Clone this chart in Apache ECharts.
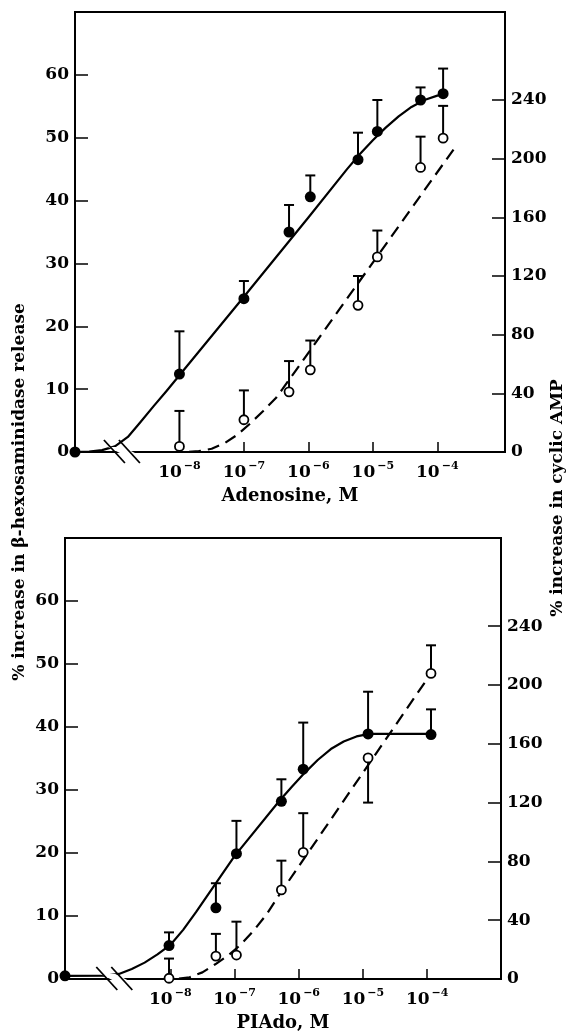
<!DOCTYPE html>
<html><head><meta charset="utf-8">
<script src="https://cdn.jsdelivr.net/npm/echarts@6/dist/echarts.min.js"></script>
<style>html,body{margin:0;padding:0;background:#fff}#c{width:571px;height:1036px}</style>
</head><body><div id="c"></div>
<script>
const FONT = '"DejaVu Serif", "Liberation Serif", serif';

// ---------- axis setup (log10 of molar concentration) ----------
const leftTicks = [0, 10, 20, 30, 40, 50, 60];
const rightTicks = [0, 40, 80, 120, 160, 200, 240];
const xTicks = [-8, -7, -6, -5, -4];
const topXRange = [-9.62, -2.95];
const botXRange = [-9.64, -2.85];
const breakTop = -8.9;
const breakBot = -8.88;

// ---------- Adenosine panel ----------
const adoLogConc   = [-8.0, -7.0, -6.3, -5.97, -5.23, -4.93, -4.26, -3.91];
const adoHexCtrl   = 0;
const adoHex       = [12.4, 24.4, 35.0, 40.6, 46.5, 51.0, 56.0, 57.0];
const adoHexErr    = [19.2, 27.2, 39.3, 44.0, 50.8, 56.0, 58.0, 61.0];
const adoCamp      = [3.8, 22, 41, 56, 100, 133, 194, 214];
const adoCampErr   = [28, 42, 62, 76, 120, 151, 215, 236];
const adoHexCurve  = [[-9.62,0],[-9.4,0.05],[-9.2,0.3],[-9.0,0.9],[-8.8,2.4],[-8.6,4.8],[-8.4,7.3],[-8.2,9.7],[-8.0,12.2],[-7.0,24.7],[-6.0,37.3],[-5.4,45.0],[-5.2,47.4],[-5.0,49.6],[-4.8,51.6],[-4.6,53.4],[-4.4,54.9],[-4.2,56.0],[-4.0,56.7],[-3.85,57.0]];
const adoCampCurve = [[-9.62,0],[-7.9,0],[-7.7,0.6],[-7.5,2.2],[-7.3,6.0],[-7.1,11.8],[-6.9,19.5],[-6.7,28],[-6.5,37],[-6.4,43],[-3.72,208]];

// ---------- PIAdo panel ----------
const piaLogConc   = [-8.02, -7.29, -6.97, -6.27, -5.93, -4.92, -3.94];
const piaHexCtrl   = 0.5;
const piaHex       = [5.3, 11.3, 19.9, 28.2, 33.3, 38.9, 38.8];
const piaHexErr    = [7.4, 15.2, 25.1, 31.7, 40.7, 45.6, 42.8];
const piaCamp      = [0.5, 15.6, 16.3, 60.6, 86.2, 150.4, 207.9];
const piaCampErr   = [13.9, 30.7, 39, 80.5, 112.8, 120, 227];
const piaHexCurve  = [[-9.64,0.5],[-9.0,0.55],[-8.8,0.8],[-8.6,1.6],[-8.4,2.6],[-8.2,3.9],[-8.0,5.4],[-7.8,7.8],[-7.6,10.6],[-7.0,19.5],[-6.3,28.3],[-6.1,30.6],[-5.9,32.8],[-5.7,34.8],[-5.5,36.5],[-5.3,37.7],[-5.1,38.5],[-4.9,38.9],[-3.95,38.9]];
const piaCampCurve = [[-9.64,0],[-7.9,0],[-7.7,1.2],[-7.5,4.5],[-7.3,10],[-7.1,16],[-6.9,23.5],[-6.7,33],[-6.5,44],[-6.3,57.5],[-3.94,207.9]];

const xTitleTop = 'Adenosine, M';
const xTitleBot = 'PIAdo, M';
const leftTitle = '% increase in β-hexosaminidase release';
const rightTitle = '% increase in cyclic AMP';

// ---------- helpers ----------
const lab = {fontFamily: FONT, fontWeight: 'bold', fontSize: 17, color: '#000'};
function xAxisCfg(grid, range, name) {
  return {
    type: 'value', gridIndex: grid, min: range[0], max: range[1],
    name: name, nameLocation: 'middle', nameGap: 35,
    nameTextStyle: {fontFamily: FONT, fontWeight: 'bold', fontSize: 18, color: '#000'},
    axisLine: {show: true, onZero: false, lineStyle: {color: '#000', width: 2}},
    axisTick: {show: true, inside: true, length: 10, customValues: xTicks, lineStyle: {color: '#000', width: 1.5}},
    axisLabel: {show: true, customValues: xTicks, margin: 9,
      formatter: v => '{a|10}{b|−' + Math.abs(Math.round(v)) + '}',
      rich: {
        a: {fontFamily: FONT, fontWeight: 'bold', fontSize: 17, color: '#000', lineHeight: 20, verticalAlign: 'bottom'},
        b: {fontFamily: FONT, fontWeight: 'bold', fontSize: 11, color: '#000', lineHeight: 12, verticalAlign: 'top', padding: [0, 0, 0, 2]}
      }},
    splitLine: {show: false}
  };
}
function yAxisCfg(grid, pos, max, ticks) {
  return {
    type: 'value', gridIndex: grid, position: pos, min: 0, max: max,
    axisLine: {show: true, lineStyle: {color: '#000', width: 2}},
    axisTick: {show: true, inside: true, length: 13, customValues: ticks, lineStyle: {color: '#000', width: 1.5}},
    axisLabel: Object.assign({show: true, customValues: ticks, margin: 6}, lab),
    splitLine: {show: false}
  };
}
function errRender(params, api) {
  const x = api.value(0), v = api.value(1), e = api.value(2);
  const p0 = api.coord([x, v]), p1 = api.coord([x, e]);
  const hw = 5;
  return {type: 'group', children: [
    {type: 'line', shape: {x1: p0[0], y1: p0[1], x2: p1[0], y2: p1[1]}, style: {stroke: '#000', lineWidth: 2}},
    {type: 'line', shape: {x1: p1[0] - hw, y1: p1[1], x2: p1[0] + hw, y2: p1[1]}, style: {stroke: '#000', lineWidth: 2}}
  ]};
}
function zip(xs, ys) { return xs.map((x, i) => [x, ys[i]]); }
function zip3(xs, ys, es) { return xs.map((x, i) => [x, ys[i], es[i]]); }

function panelSeries(xi, yl, yr, xMin, conc, hexCtrl, hex, hexErr, camp, campErr, hexCurve, campCurve) {
  return [
    {type: 'line', xAxisIndex: xi, yAxisIndex: yl, data: hexCurve, smooth: false, showSymbol: false, clip: false,
      lineStyle: {color: '#000', width: 2.2, join: 'round'}, z: 2, silent: true},
    {type: 'line', xAxisIndex: xi, yAxisIndex: yr, data: campCurve, smooth: false, showSymbol: false, clip: false,
      lineStyle: {color: '#000', width: 2.2, type: [12, 7]}, z: 2, silent: true},
    {type: 'custom', xAxisIndex: xi, yAxisIndex: yl, renderItem: errRender, data: zip3(conc, hex, hexErr), encode: {x: 0, y: [1, 2]}, z: 3, clip: false},
    {type: 'custom', xAxisIndex: xi, yAxisIndex: yr, renderItem: errRender, data: zip3(conc, camp, campErr), encode: {x: 0, y: [1, 2]}, z: 3, clip: false},
    {type: 'scatter', xAxisIndex: xi, yAxisIndex: yl, data: [[xMin, hexCtrl]].concat(zip(conc, hex)), symbol: 'circle', symbolSize: 11,
      itemStyle: {color: '#000', opacity: 1}, z: 5, clip: false},
    {type: 'scatter', xAxisIndex: xi, yAxisIndex: yr, data: zip(conc, camp), symbol: 'circle', symbolSize: 9,
      itemStyle: {color: '#fff', borderColor: '#000', borderWidth: 1.8, opacity: 1}, z: 6, clip: false}
  ];
}

const chart = echarts.init(document.getElementById('c'), null, {renderer: 'canvas'});
const gridStyle = {show: true, borderColor: '#000', borderWidth: 2, backgroundColor: 'transparent'};
chart.setOption({
  animation: false,
  backgroundColor: '#fff',
  textStyle: {fontFamily: FONT},
  grid: [
    Object.assign({left: 75, right: 66, top: 12, height: 440}, gridStyle),
    Object.assign({left: 65, right: 70, top: 538, height: 441}, gridStyle)
  ],
  xAxis: [xAxisCfg(0, topXRange, xTitleTop), xAxisCfg(1, botXRange, xTitleBot)],
  yAxis: [
    yAxisCfg(0, 'left', 70, leftTicks), yAxisCfg(0, 'right', 300, rightTicks),
    yAxisCfg(1, 'left', 70, leftTicks), yAxisCfg(1, 'right', 300, rightTicks)
  ],
  series: [].concat(
    panelSeries(0, 0, 1, topXRange[0], adoLogConc, adoHexCtrl, adoHex, adoHexErr, adoCamp, adoCampErr, adoHexCurve, adoCampCurve),
    panelSeries(1, 2, 3, botXRange[0], piaLogConc, piaHexCtrl, piaHex, piaHexErr, piaCamp, piaCampErr, piaHexCurve, piaCampCurve)
  )
});

// axis-break marks and rotated axis titles
function breakMarks(xi, yi, at) {
  const p = chart.convertToPixel({xAxisIndex: xi, yAxisIndex: yi}, [at, 0]);
  const cx = p[0], cy = p[1], d = 15;
  return [
    {type: 'polygon', shape: {points: [[cx - 10, cy - 5], [cx - 10 + d, cy - 5], [cx + 10 + d, cy + 5], [cx + 10, cy + 5]].map(q => [q[0] - d / 2 + 4, q[1]])},
      style: {fill: '#fff'}, z: 20},
    {type: 'line', shape: {x1: cx - d / 2 - 10, y1: cy - 12, x2: cx - d / 2 + 11, y2: cy + 11}, style: {stroke: '#000', lineWidth: 1.8}, z: 21},
    {type: 'line', shape: {x1: cx + d / 2 - 10, y1: cy - 12, x2: cx + d / 2 + 11, y2: cy + 11}, style: {stroke: '#000', lineWidth: 1.8}, z: 21}
  ];
}
const titleStyle = {fontFamily: FONT, fontWeight: 'bold', fontSize: 17, fill: '#000'};
chart.setOption({
  graphic: [].concat(
    breakMarks(0, 0, breakTop),
    breakMarks(1, 2, breakBot),
    [
      {type: 'text', x: 20, y: 492, rotation: Math.PI / 2, z: 30,
        style: Object.assign({text: leftTitle, align: 'center', verticalAlign: 'middle', textAlign: 'center', textVerticalAlign: 'middle'}, titleStyle)},
      {type: 'text', x: 558, y: 498, rotation: Math.PI / 2, z: 30,
        style: Object.assign({text: rightTitle, align: 'center', verticalAlign: 'middle', textAlign: 'center', textVerticalAlign: 'middle'}, titleStyle)}
    ]
  )
});
</script></body></html>
